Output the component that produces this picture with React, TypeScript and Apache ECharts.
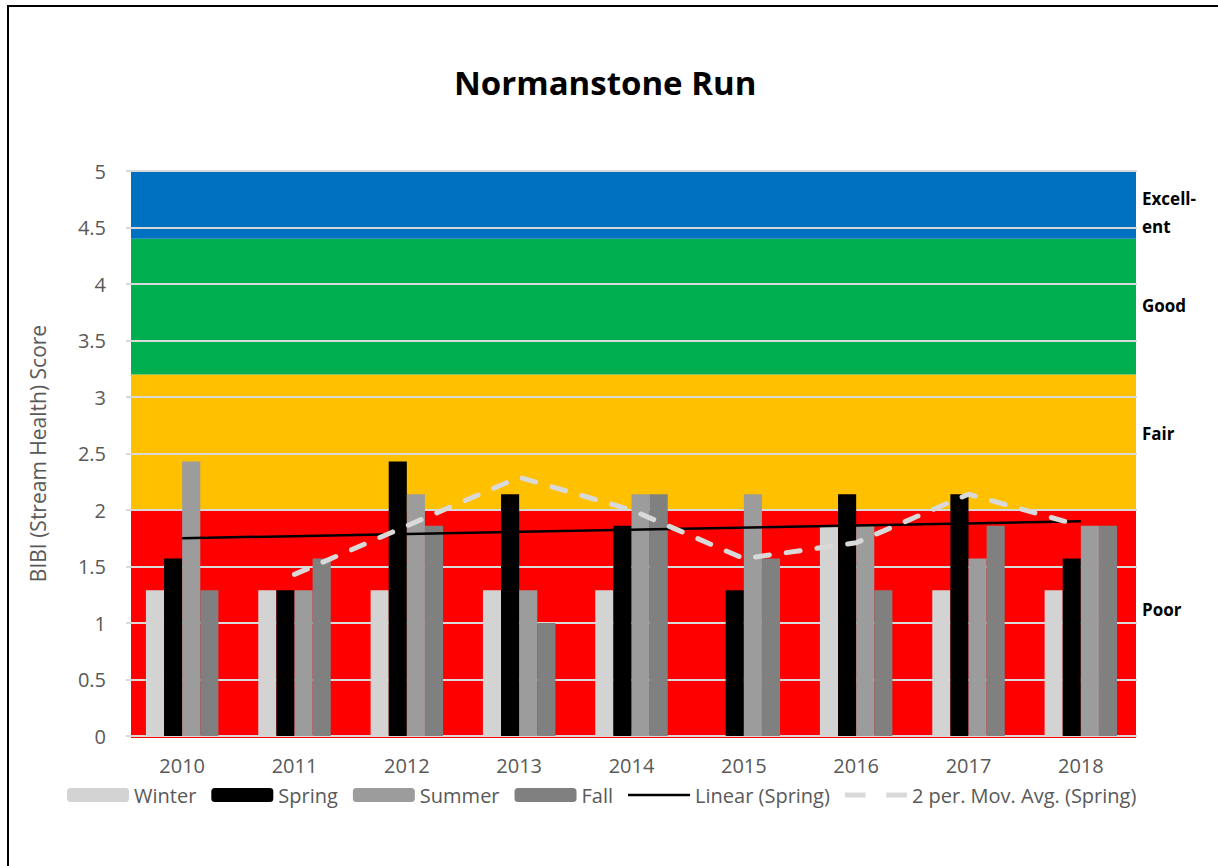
import React, { useEffect, useRef } from "react";
import * as echarts from "echarts";

const years = ["2010", "2011", "2012", "2013", "2014", "2015", "2016", "2017", "2018"];
const winter = [1.29, 1.29, 1.29, 1.29, 1.29, null, 1.86, 1.29, 1.29];
const spring = [1.57, 1.29, 2.43, 2.14, 1.86, 1.29, 2.14, 2.14, 1.57];
const summer = [2.43, 1.29, 2.14, 1.29, 2.14, 2.14, 1.86, 1.57, 1.86];
const fall = [1.29, 1.57, 1.86, 1.0, 2.14, 1.57, 1.29, 1.86, 1.86];
const linearSpring = [1.75, null, null, null, null, null, null, null, 1.9];
const movAvgSpring = [null, 1.43, 1.86, 2.29, 2.0, 1.57, 1.71, 2.14, 1.86];
const bandLow = [0, 2, 3.2, 4.4];
const bandHigh = [2, 3.2, 4.4, 5];
const bandColors = ["#FF0000", "#FFC000", "#00B050", "#0070C0"];
const bandLabels = ["Poor", "Fair", "Good", "Excell-\nent"];
const bandLabelValues = [1.12, 2.68, 3.81, 4.63];

const FONT = "'Open Sans', 'Noto Sans', sans-serif";

export default function App() {
  const ref = useRef<HTMLDivElement>(null);
  useEffect(() => {
    document.body.style.margin = "0";
    const chart = echarts.init(ref.current!, null, { renderer: "svg" });
    const bandSeriesData = bandLow.map((lo, i) => [i, lo, bandHigh[i], bandLabelValues[i]]);
    const barSeries = (name: string, data: any[], color: string) => ({
      name,
      type: "bar",
      data,
      z: 3,
      barGap: "0%",
      barCategoryGap: "35.5%",
      itemStyle: { color },
    });
    chart.setOption({
      animation: false,
      backgroundColor: "#fff",
      textStyle: { fontFamily: FONT },
      title: {
        text: "Normanstone Run",
        left: 449,
        top: 61,
        textStyle: { fontFamily: FONT, fontWeight: "bold", fontSize: 33, color: "#000" },
      },
      grid: { left: 126, right: 81, top: 171, bottom: 130, containLabel: false },
      xAxis: {
        type: "category",
        data: years,
        axisTick: { show: false },
        axisLine: { show: false },
        axisLabel: { color: "#595959", fontSize: 20, margin: 19, fontFamily: FONT },
      },
      yAxis: {
        type: "value",
        min: 0,
        max: 5,
        interval: 0.5,
        z: 1,
        name: "BIBI (Stream Health) Score",
        nameLocation: "middle",
        nameGap: 78,
        nameTextStyle: { color: "#595959", fontSize: 21, fontFamily: FONT },
        axisLabel: { color: "#595959", fontSize: 20, margin: 20, fontFamily: FONT },
        axisLine: { show: false },
        axisTick: { show: false },
        splitLine: { show: true, lineStyle: { color: "#d9d9d9", width: 2 } },
      },
      legend: {
        top: 780,
        left: 62,
        itemWidth: 62,
        itemHeight: 14,
        itemGap: 15,
        textStyle: { color: "#595959", fontSize: 20, fontFamily: FONT },
        data: [
          { name: "Winter" },
          { name: "Spring" },
          { name: "Summer" },
          { name: "Fall" },
          {
            name: "Linear (Spring)",
            icon: "path://M0,0L70,0L70,3L0,3Z",
            itemStyle: { color: "#000", borderWidth: 0 },
          },
          {
            name: "2 per. Mov. Avg. (Spring)",
            icon: "path://M0,0L20,0L20,5L0,5Z M40,0L60,0L60,5L40,5Z",
            itemStyle: { color: "#d9d9d9", borderWidth: 0 },
          },
        ],
      },
      graphic: [
        { type: "line", shape: { x1: 7, y1: 6, x2: 1218, y2: 6 }, style: { stroke: "#000", lineWidth: 2 } },
        { type: "line", shape: { x1: 8, y1: 5, x2: 8, y2: 866 }, style: { stroke: "#000", lineWidth: 2 } },
      ],
      series: [
        {
          name: "bands",
          type: "custom",
          z: 0,
          silent: true,
          data: bandSeriesData,
          renderItem: (params: any, api: any) => {
            const cs = params.coordSys;
            const yTop = api.coord([0, api.value(2)])[1];
            const yBot = api.coord([0, api.value(1)])[1];
            const yLab = api.coord([0, api.value(3)])[1];
            const idx = api.value(0);
            const x0 = cs.x + 5;
            const x1 = cs.x + cs.width - 1;
            return {
              type: "group",
              children: [
                {
                  type: "rect",
                  shape: { x: x0, y: yTop, width: x1 - x0, height: yBot - yTop + (idx === 0 ? 2 : 0) },
                  style: { fill: bandColors[idx] },
                },
                {
                  type: "text",
                  x: x1 + 6,
                  y: yLab,
                  style: {
                    text: bandLabels[idx],
                    fill: "#000",
                    font: `bold 17px ${FONT}`,
                    lineHeight: 28,
                    align: "left",
                    verticalAlign: "middle",
                  },
                },
              ],
            };
          },
        },
        barSeries("Winter", winter, "#d3d3d3"),
        barSeries("Spring", spring, "#000000"),
        barSeries("Summer", summer, "#9c9c9c"),
        barSeries("Fall", fall, "#808080"),
        {
          name: "Linear (Spring)",
          type: "line",
          data: linearSpring,
          connectNulls: true,
          symbol: "none",
          z: 5,
          lineStyle: { color: "#000", width: 2.5 },
          itemStyle: { color: "#000" },
        },
        {
          name: "2 per. Mov. Avg. (Spring)",
          type: "line",
          data: movAvgSpring,
          symbol: "none",
          z: 6,
          lineStyle: { color: "#d9d9d9", width: 5, type: [14, 17], cap: "round" },
          itemStyle: { color: "#d9d9d9" },
        },
      ],
    });
    return () => chart.dispose();
  }, []);
  return <div ref={ref} style={{ width: 1218, height: 866 }} />;
}
